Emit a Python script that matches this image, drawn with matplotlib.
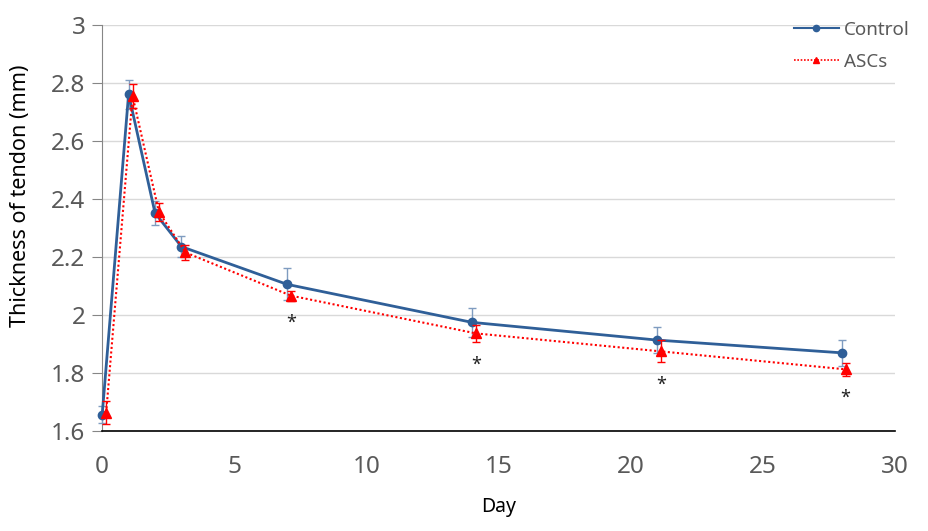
import matplotlib
matplotlib.use('Agg')
import matplotlib.pyplot as plt
from matplotlib.lines import Line2D
import numpy as np

plt.rcParams['font.family'] = ['Noto Sans', 'DejaVu Sans']

# Data
days = [0, 1, 2, 3, 7, 14, 21, 28]
control = [1.657, 2.762, 2.352, 2.236, 2.106, 1.975, 1.914, 1.870]
control_err = [0.03, 0.05, 0.04, 0.035, 0.055, 0.05, 0.045, 0.045]
ascs = [1.663, 2.755, 2.355, 2.216, 2.067, 1.937, 1.875, 1.813]
ascs_err = [0.04, 0.04, 0.03, 0.025, 0.017, 0.03, 0.038, 0.022]
star_days = [7, 14, 21, 28]
x_offset = 0.15

blue = '#2f5f98'
red = '#ff0000'
gray = '#595959'

fig = plt.figure(figsize=(9.29, 5.31), dpi=100)
ax = fig.add_axes([0.110, 0.188, 0.853, 0.765])

ctrl = ax.errorbar(days, control, yerr=control_err, color=blue, marker='o', markersize=6,
                   linewidth=2, ecolor='#7f9cc0', elinewidth=1, capsize=3, capthick=1,
                   zorder=3)
ascs_x = [d + x_offset for d in days]
asc = ax.errorbar(ascs_x, ascs, yerr=ascs_err, color=red, marker='^', markersize=7,
                  linewidth=1.5, linestyle=(0, (1, 1.2)), ecolor=red, elinewidth=1,
                  capsize=3, capthick=1, zorder=4)
for art in [ctrl, asc]:
    for child in art.get_children():
        child.set_clip_on(False)

# significance markers
for d in star_days:
    i = days.index(d)
    ax.annotate('*', (d + x_offset, ascs[i] - ascs_err[i]), xytext=(0, -16),
                textcoords='offset points', ha='center', va='center', fontsize=13,
                color='#222222')

ax.set_xlim(0, 30)
ax.set_ylim(1.6, 3.0)
ax.set_xticks(np.arange(0, 31, 5))
ax.set_yticks([1.6, 1.8, 2.0, 2.2, 2.4, 2.6, 2.8, 3.0])
ax.set_yticklabels(['1.6', '1.8', '2', '2.2', '2.4', '2.6', '2.8', '3'])

ax.grid(True, axis='y', color='#d9d9d9', linewidth=1)
ax.set_axisbelow(True)
for s in ['top', 'right']:
    ax.spines[s].set_visible(False)
ax.spines['left'].set_color('#868686')
ax.spines['bottom'].set_color('black')
ax.spines['bottom'].set_linewidth(1.2)

ax.tick_params(axis='y', length=7, color='#868686', labelsize=17.5, labelcolor=gray, pad=5)
ax.tick_params(axis='x', length=0, labelsize=17.5, labelcolor=gray, pad=17)

ax.set_xlabel('Day', fontsize=14)
ax.xaxis.label.set_va('center')
ax.xaxis.set_label_coords(0.5, -0.187)
ax.set_ylabel('Thickness of tendon (mm)', fontsize=15.5)
ax.yaxis.label.set_va('center')
ax.yaxis.set_label_coords(-0.103, 0.579)

handles = [
    Line2D([], [], color=blue, marker='o', markersize=4.5, linewidth=1.5),
    Line2D([], [], color=red, marker='^', markersize=5, linewidth=1.2, linestyle=(0, (1, 1))),
]
leg = fig.legend(handles, ['Control', 'ASCs'], loc='upper right',
                 bbox_to_anchor=(927 / 929, 1 - 4 / 531), frameon=False,
                 fontsize=13.5, handlelength=2.4, handletextpad=0.3, labelspacing=0.75)
for t in leg.get_texts():
    t.set_color(gray)

fig.savefig('out.png', dpi=100)
